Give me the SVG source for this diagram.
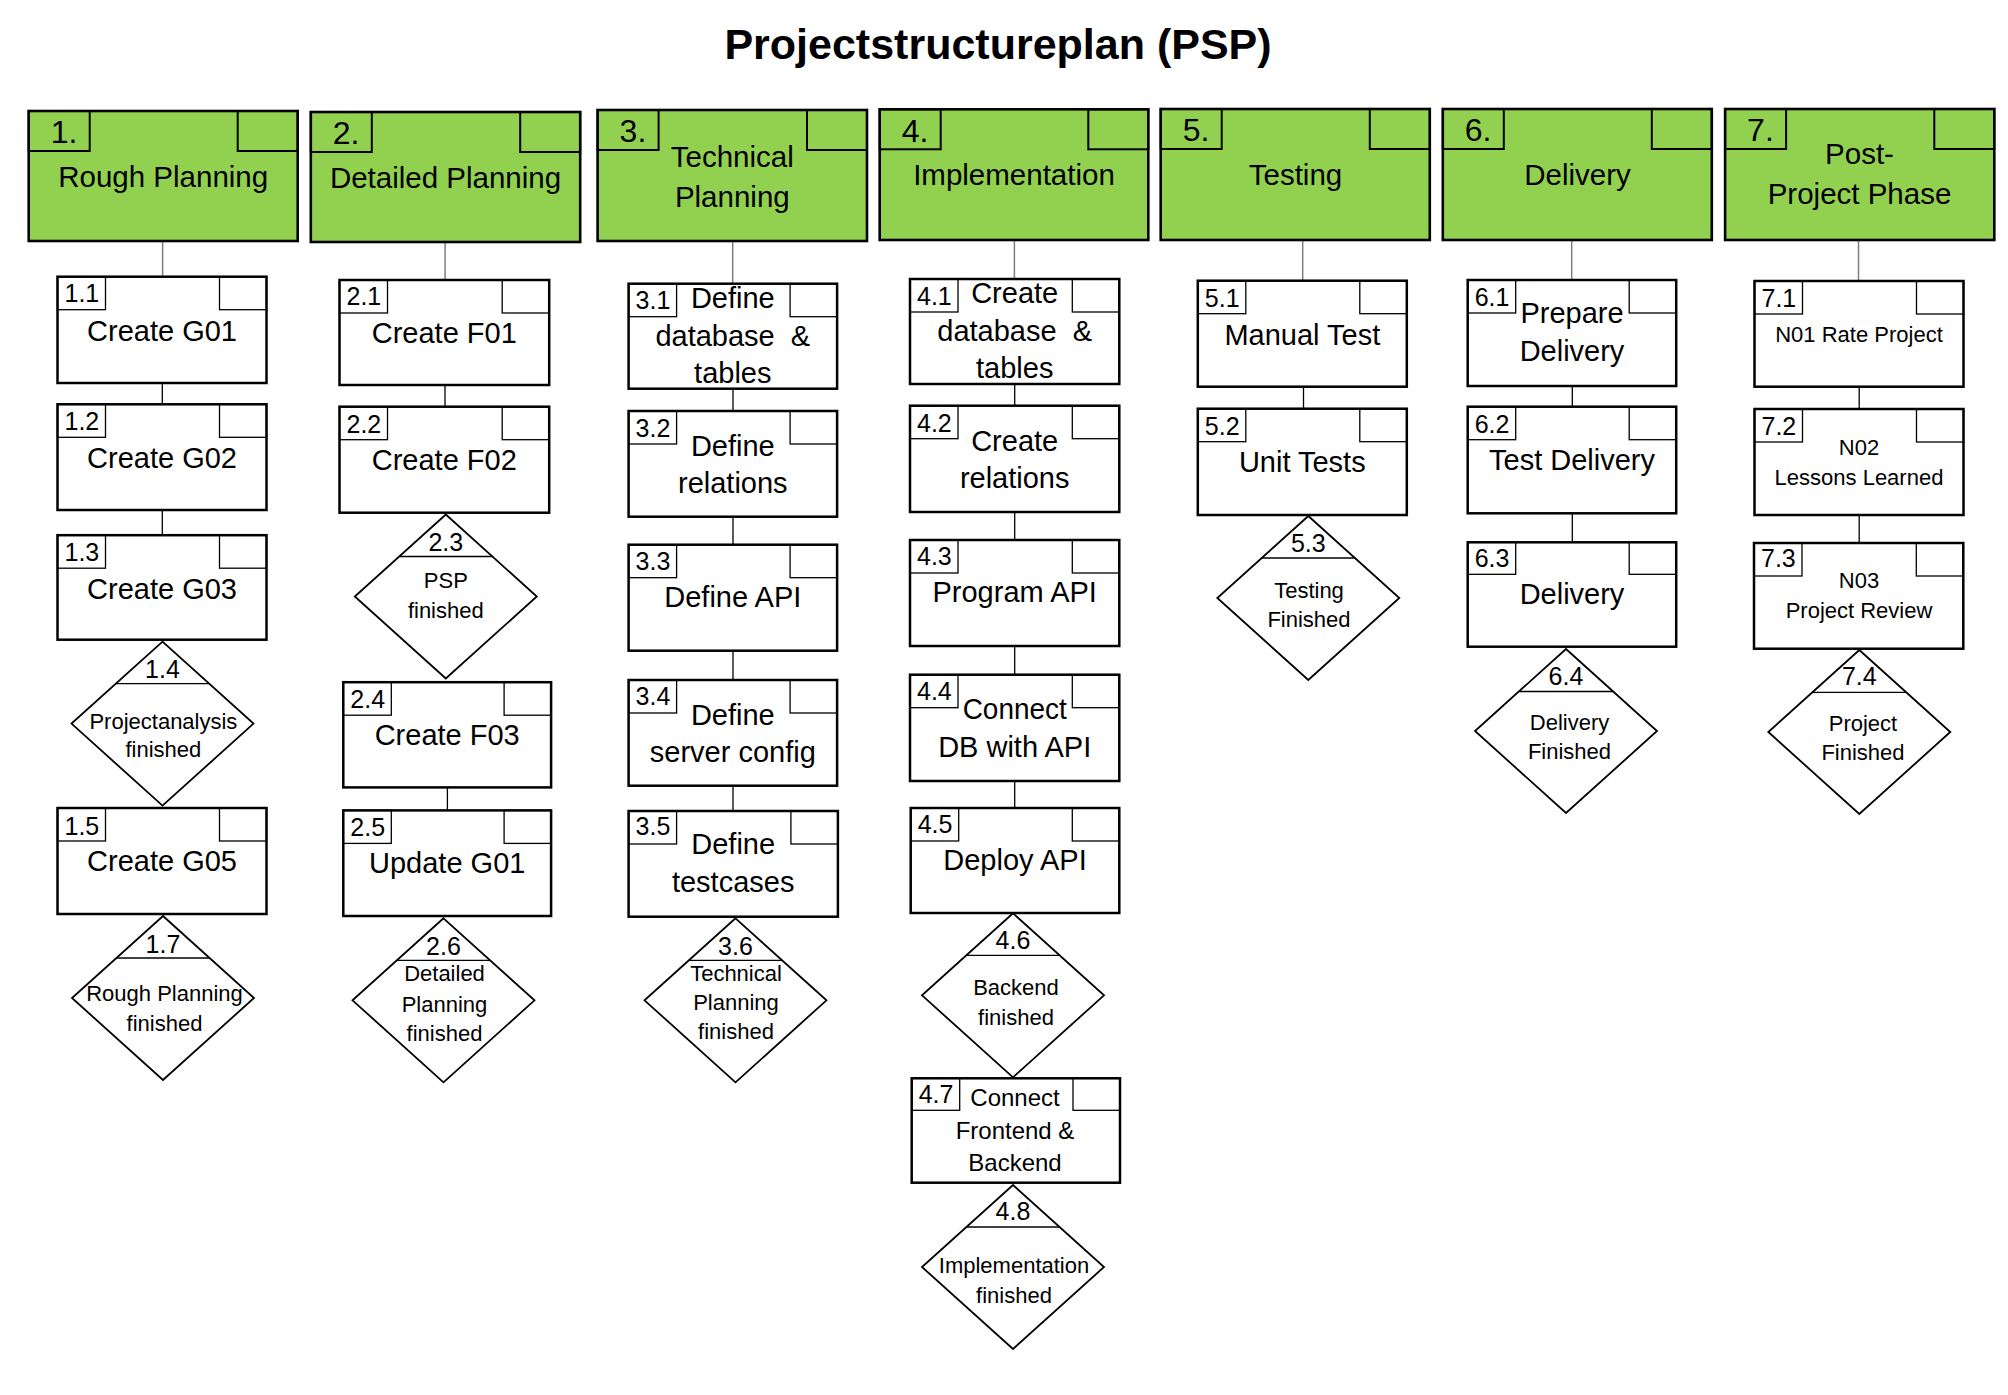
<svg xmlns="http://www.w3.org/2000/svg" width="2008" height="1395" viewBox="0 0 2008 1395">
<style>
text{font-family:"Liberation Sans",Arial,sans-serif;fill:#000}
.title{font-size:43px;font-weight:bold;text-anchor:middle}
.hd{fill:#92D050;stroke:#000;stroke-width:2.6}
.hb{fill:none;stroke:#000;stroke-width:2}
.bx{fill:#fff;stroke:#000;stroke-width:2.5}
.sb{fill:none;stroke:#000;stroke-width:1.3}
.dm{fill:#fff;stroke:#000;stroke-width:1.8}
.dl{stroke:#000;stroke-width:1.3}
.hn{font-size:32px}
.ht{font-size:29.5px;text-anchor:middle}
.tn{font-size:25px}
.tt{font-size:29px;text-anchor:middle}
.ts{font-size:22px;text-anchor:middle}
.tm{font-size:24px;text-anchor:middle}
.dn{font-size:25px;text-anchor:middle}
.dt{font-size:22px;text-anchor:middle}
.pre{white-space:pre}
.ch{stroke:#7f7f7f;stroke-width:1.5}
.ct{stroke:#000;stroke-width:1.3}
</style>

<text class="title" x="998" y="59">Projectstructureplan (PSP)</text>

<g id="connectors">
<line class="ch" x1="162.6" y1="241" x2="162.6" y2="276.7"/>
<line class="ch" x1="445.1" y1="242" x2="445.1" y2="280"/>
<line class="ch" x1="732.7" y1="241" x2="732.7" y2="283.7"/>
<line class="ch" x1="1014.4" y1="240" x2="1014.4" y2="279"/>
<line class="ch" x1="1302.7" y1="240" x2="1302.7" y2="280.7"/>
<line class="ch" x1="1571.7" y1="240" x2="1571.7" y2="280"/>
<line class="ch" x1="1858.5" y1="240" x2="1858.5" y2="281"/>
<line class="ct" x1="162.3" y1="383" x2="162.3" y2="404.3"/>
<line class="ct" x1="162.3" y1="510" x2="162.3" y2="535.2"/>
<line class="ct" x1="445" y1="385" x2="445" y2="406.7"/>
<line class="ct" x1="447.4" y1="787.4" x2="447.4" y2="810.4"/>
<line class="ct" x1="733" y1="388.7" x2="733" y2="411"/>
<line class="ct" x1="733" y1="516.7" x2="733" y2="544.7"/>
<line class="ct" x1="733" y1="650.7" x2="733" y2="680"/>
<line class="ct" x1="733" y1="785.7" x2="733" y2="811"/>
<line class="ct" x1="1014.7" y1="384" x2="1014.7" y2="405.7"/>
<line class="ct" x1="1014.7" y1="512" x2="1014.7" y2="540"/>
<line class="ct" x1="1014.7" y1="646" x2="1014.7" y2="674.7"/>
<line class="ct" x1="1014.7" y1="781" x2="1014.7" y2="808"/>
<line class="ct" x1="1303.5" y1="386.7" x2="1303.5" y2="408.7"/>
<line class="ct" x1="1572.3" y1="386" x2="1572.3" y2="406.7"/>
<line class="ct" x1="1572.3" y1="513.3" x2="1572.3" y2="542.3"/>
<line class="ct" x1="1859.2" y1="386.7" x2="1859.2" y2="409"/>
<line class="ct" x1="1859.2" y1="515" x2="1859.2" y2="543"/>
</g>

<!-- Headers -->
<g id="h1">
<rect class="hd" x="28.7" y="111" width="269" height="130"/>
<rect class="hb" x="28.7" y="111" width="61" height="40"/>
<rect class="hb" x="237.7" y="111" width="60" height="40"/>
<text class="hn" x="50.7" y="143">1.</text>
<text class="ht" x="163.2" y="187.3">Rough Planning</text>
</g>
<g id="h2">
<rect class="hd" x="310.8" y="112" width="269.4" height="130"/>
<rect class="hb" x="310.8" y="112" width="61" height="40"/>
<rect class="hb" x="520.2" y="112" width="60" height="40"/>
<text class="hn" x="332.8" y="144">2.</text>
<text class="ht" x="445.5" y="188.3">Detailed Planning</text>
</g>
<g id="h3">
<rect class="hd" x="597.6" y="110" width="269.4" height="131"/>
<rect class="hb" x="597.6" y="110" width="61" height="40"/>
<rect class="hb" x="807" y="110" width="60" height="40"/>
<text class="hn" x="619.6" y="142">3.</text>
<text class="ht" x="732.3" y="166.7">Technical</text>
<text class="ht" x="732.3" y="206.7">Planning</text>
</g>
<g id="h4">
<rect class="hd" x="879.7" y="109.3" width="268.6" height="130.7"/>
<rect class="hb" x="879.7" y="109.3" width="61" height="40"/>
<rect class="hb" x="1088.3" y="109.3" width="60" height="40"/>
<text class="hn" x="901.7" y="142">4.</text>
<text class="ht" x="1014" y="185">Implementation</text>
</g>
<g id="h5">
<rect class="hd" x="1160.7" y="109" width="269.1" height="131"/>
<rect class="hb" x="1160.7" y="109" width="61" height="40"/>
<rect class="hb" x="1369.8" y="109" width="60" height="40"/>
<text class="hn" x="1182.7" y="141">5.</text>
<text class="ht" x="1295.5" y="185">Testing</text>
</g>
<g id="h6">
<rect class="hd" x="1442.8" y="109" width="269" height="131"/>
<rect class="hb" x="1442.8" y="109" width="61" height="40"/>
<rect class="hb" x="1651.8" y="109" width="60" height="40"/>
<text class="hn" x="1464.8" y="141">6.</text>
<text class="ht" x="1577.5" y="185">Delivery</text>
</g>
<g id="h7">
<rect class="hd" x="1725.1" y="109" width="269.2" height="131"/>
<rect class="hb" x="1725.1" y="109" width="61" height="40"/>
<rect class="hb" x="1934.3" y="109" width="60" height="40"/>
<text class="hn" x="1747.1" y="141">7.</text>
<text class="ht" x="1859.5" y="164">Post-</text>
<text class="ht" x="1859.5" y="204">Project Phase</text>
</g>

<!-- Column 1 -->
<g id="t1_1">
<rect class="bx" x="57.5" y="276.7" width="209" height="106.3"/>
<rect class="sb" x="57.5" y="276.7" width="48" height="33"/>
<rect class="sb" x="219.5" y="276.7" width="47" height="33"/>
<text class="tn" x="64.5" y="302">1.1</text>
<text class="tt" x="162" y="340.7">Create G01</text>
</g>
<g id="t1_2">
<rect class="bx" x="57.5" y="404.3" width="209" height="105.7"/>
<rect class="sb" x="57.5" y="404.3" width="48" height="33"/>
<rect class="sb" x="219.5" y="404.3" width="47" height="33"/>
<text class="tn" x="64.5" y="430">1.2</text>
<text class="tt" x="162" y="468.3">Create G02</text>
</g>
<g id="t1_3">
<rect class="bx" x="57.5" y="535.2" width="209" height="104.5"/>
<rect class="sb" x="57.5" y="535.2" width="48" height="33"/>
<rect class="sb" x="219.5" y="535.2" width="47" height="33"/>
<text class="tn" x="64.5" y="560.7">1.3</text>
<text class="tt" x="162" y="598.7">Create G03</text>
</g>
<g id="d1_4">
<polygon class="dm" points="162.5,641.6 253.5,723.6 162.5,805.6 71.5,723.6"/>
<line class="dl" x1="115.9" y1="683.6" x2="209.1" y2="683.6"/>
<text class="dn" x="162.5" y="678">1.4</text>
<text class="dt" x="163.4" y="728.5">Projectanalysis</text>
<text class="dt" x="163.4" y="757">finished</text>
</g>
<g id="t1_5">
<rect class="bx" x="57.5" y="808" width="209" height="106"/>
<rect class="sb" x="57.5" y="808" width="48" height="33"/>
<rect class="sb" x="219.5" y="808" width="47" height="33"/>
<text class="tn" x="64.5" y="834.5">1.5</text>
<text class="tt" x="162" y="871.2">Create G05</text>
</g>
<g id="d1_7">
<polygon class="dm" points="163,916 254,998 163,1080 72,998"/>
<line class="dl" x1="116.4" y1="958" x2="209.6" y2="958"/>
<text class="dn" x="163" y="953">1.7</text>
<text class="dt" x="164.5" y="1001.3">Rough Planning</text>
<text class="dt" x="164.5" y="1031.2">finished</text>
</g>

<!-- Column 2 -->
<g id="t2_1">
<rect class="bx" x="339.5" y="280" width="209.7" height="105"/>
<rect class="sb" x="339.5" y="280" width="48" height="33"/>
<rect class="sb" x="502.2" y="280" width="47" height="33"/>
<text class="tn" x="346.5" y="305">2.1</text>
<text class="tt" x="444.3" y="343.3">Create F01</text>
</g>
<g id="t2_2">
<rect class="bx" x="339.5" y="406.7" width="209.7" height="106"/>
<rect class="sb" x="339.5" y="406.7" width="48" height="33"/>
<rect class="sb" x="502.2" y="406.7" width="47" height="33"/>
<text class="tn" x="346.5" y="432.5">2.2</text>
<text class="tt" x="444.3" y="470">Create F02</text>
</g>
<g id="d2_3">
<polygon class="dm" points="445.8,514.5 536.8,596.5 445.8,678.5 354.8,596.5"/>
<line class="dl" x1="399.2" y1="556.5" x2="492.4" y2="556.5"/>
<text class="dn" x="445.8" y="550.5">2.3</text>
<text class="dt" x="445.8" y="588">PSP</text>
<text class="dt" x="445.8" y="617.5">finished</text>
</g>
<g id="t2_4">
<rect class="bx" x="343.3" y="682.2" width="207.8" height="105.2"/>
<rect class="sb" x="343.3" y="682.2" width="48" height="33"/>
<rect class="sb" x="504.1" y="682.2" width="47" height="33"/>
<text class="tn" x="350.3" y="708">2.4</text>
<text class="tt" x="447.2" y="745">Create F03</text>
</g>
<g id="t2_5">
<rect class="bx" x="343.3" y="810.4" width="207.8" height="105.6"/>
<rect class="sb" x="343.3" y="810.4" width="48" height="33"/>
<rect class="sb" x="504.1" y="810.4" width="47" height="33"/>
<text class="tn" x="350.3" y="836">2.5</text>
<text class="tt" x="447.2" y="873.1">Update G01</text>
</g>
<g id="d2_6">
<polygon class="dm" points="443.5,918.3 534.5,1000.3 443.5,1082.3 352.5,1000.3"/>
<line class="dl" x1="396.9" y1="960.3" x2="490.1" y2="960.3"/>
<text class="dn" x="443.5" y="955">2.6</text>
<text class="dt" x="444.5" y="981.4">Detailed</text>
<text class="dt" x="444.5" y="1011.7">Planning</text>
<text class="dt" x="444.5" y="1040.8">finished</text>
</g>

<!-- Column 3 -->
<g id="t3_1">
<rect class="bx" x="628.6" y="283.7" width="208.5" height="105"/>
<rect class="sb" x="628.6" y="283.7" width="48" height="33"/>
<rect class="sb" x="790.1" y="283.7" width="47" height="33"/>
<text class="tn" x="635.6" y="309">3.1</text>
<text class="tt" x="732.8" y="308.3">Define</text>
<text class="tt pre" x="732.8" y="346">database  &amp;</text>
<text class="tt" x="732.8" y="383.3">tables</text>
</g>
<g id="t3_2">
<rect class="bx" x="628.6" y="411" width="208.5" height="105.7"/>
<rect class="sb" x="628.6" y="411" width="48" height="33"/>
<rect class="sb" x="790.1" y="411" width="47" height="33"/>
<text class="tn" x="635.6" y="436.5">3.2</text>
<text class="tt" x="732.8" y="456">Define</text>
<text class="tt" x="732.8" y="493.3">relations</text>
</g>
<g id="t3_3">
<rect class="bx" x="628.6" y="544.7" width="208.5" height="106"/>
<rect class="sb" x="628.6" y="544.7" width="48" height="33"/>
<rect class="sb" x="790.1" y="544.7" width="47" height="33"/>
<text class="tn" x="635.6" y="570">3.3</text>
<text class="tt" x="732.8" y="607.3">Define API</text>
</g>
<g id="t3_4">
<rect class="bx" x="628.6" y="680" width="208.5" height="105.7"/>
<rect class="sb" x="628.6" y="680" width="48" height="33"/>
<rect class="sb" x="790.1" y="680" width="47" height="33"/>
<text class="tn" x="635.6" y="705">3.4</text>
<text class="tt" x="732.8" y="725">Define</text>
<text class="tt" x="732.8" y="762.3">server config</text>
</g>
<g id="t3_5">
<rect class="bx" x="628.6" y="811" width="209.3" height="105.7"/>
<rect class="sb" x="628.6" y="811" width="48" height="33"/>
<rect class="sb" x="790.9" y="811" width="47" height="33"/>
<text class="tn" x="635.6" y="835">3.5</text>
<text class="tt" x="733.2" y="854">Define</text>
<text class="tt" x="733.2" y="892.3">testcases</text>
</g>
<g id="d3_6">
<polygon class="dm" points="735.5,918.3 826.5,1000.3 735.5,1082.3 644.5,1000.3"/>
<line class="dl" x1="688.9" y1="960.3" x2="782.1" y2="960.3"/>
<text class="dn" x="735.5" y="955">3.6</text>
<text class="dt" x="736" y="981.4">Technical</text>
<text class="dt" x="736" y="1010">Planning</text>
<text class="dt" x="736" y="1038.5">finished</text>
</g>

<!-- Column 4 -->
<g id="t4_1">
<rect class="bx" x="910" y="279" width="209.3" height="105"/>
<rect class="sb" x="910" y="279" width="48" height="33"/>
<rect class="sb" x="1072.3" y="279" width="47" height="33"/>
<text class="tn" x="917" y="304.5">4.1</text>
<text class="tt" x="1014.7" y="303.3">Create</text>
<text class="tt pre" x="1014.7" y="340.7">database  &amp;</text>
<text class="tt" x="1014.7" y="377.7">tables</text>
</g>
<g id="t4_2">
<rect class="bx" x="910" y="405.7" width="209.3" height="106.3"/>
<rect class="sb" x="910" y="405.7" width="48" height="33"/>
<rect class="sb" x="1072.3" y="405.7" width="47" height="33"/>
<text class="tn" x="917" y="432">4.2</text>
<text class="tt" x="1014.7" y="450.7">Create</text>
<text class="tt" x="1014.7" y="488.3">relations</text>
</g>
<g id="t4_3">
<rect class="bx" x="910" y="540" width="209.3" height="106"/>
<rect class="sb" x="910" y="540" width="48" height="33"/>
<rect class="sb" x="1072.3" y="540" width="47" height="33"/>
<text class="tn" x="917" y="565">4.3</text>
<text class="tt" x="1014.7" y="602.3">Program API</text>
</g>
<g id="t4_4">
<rect class="bx" x="910" y="674.7" width="209.3" height="106.3"/>
<rect class="sb" x="910" y="674.7" width="48" height="33"/>
<rect class="sb" x="1072.3" y="674.7" width="47" height="33"/>
<text class="tn" x="917" y="700">4.4</text>
<text class="tt" x="1014.7" y="719.3" textLength="104" lengthAdjust="spacingAndGlyphs">Connect</text>
<text class="tt" x="1014.7" y="757.3">DB with API</text>
</g>
<g id="t4_5">
<rect class="bx" x="910.7" y="808" width="208.6" height="105"/>
<rect class="sb" x="910.7" y="808" width="48" height="33"/>
<rect class="sb" x="1072.3" y="808" width="47" height="33"/>
<text class="tn" x="917.7" y="832.5">4.5</text>
<text class="tt" x="1015" y="870">Deploy API</text>
</g>
<g id="d4_6">
<polygon class="dm" points="1013,913.3 1104,995.3 1013,1077.3 922,995.3"/>
<line class="dl" x1="966.4" y1="955.3" x2="1059.6" y2="955.3"/>
<text class="dn" x="1013" y="948.5">4.6</text>
<text class="dt" x="1016" y="995">Backend</text>
<text class="dt" x="1016" y="1025">finished</text>
</g>
<g id="t4_7">
<rect class="bx" x="911.7" y="1078.3" width="208.3" height="104.4"/>
<rect class="sb" x="911.7" y="1078.3" width="48" height="32"/>
<rect class="sb" x="1073" y="1078.3" width="47" height="32"/>
<text class="tn" x="918.7" y="1102.5">4.7</text>
<text class="tm" x="1015" y="1105.7">Connect</text>
<text class="tm" x="1015" y="1139.3">Frontend &amp;</text>
<text class="tm" x="1015" y="1170.7">Backend</text>
</g>
<g id="d4_8">
<polygon class="dm" points="1013,1185 1104,1267 1013,1349 922,1267"/>
<line class="dl" x1="966.4" y1="1227" x2="1059.6" y2="1227"/>
<text class="dn" x="1013" y="1220">4.8</text>
<text class="dt" x="1014" y="1273.3">Implementation</text>
<text class="dt" x="1014" y="1303.3">finished</text>
</g>

<!-- Column 5 -->
<g id="t5_1">
<rect class="bx" x="1197.8" y="280.7" width="209" height="106"/>
<rect class="sb" x="1197.8" y="280.7" width="48" height="33"/>
<rect class="sb" x="1359.8" y="280.7" width="47" height="33"/>
<text class="tn" x="1204.8" y="306.5">5.1</text>
<text class="tt" x="1302.3" y="345">Manual Test</text>
</g>
<g id="t5_2">
<rect class="bx" x="1197.8" y="408.7" width="209" height="106.3"/>
<rect class="sb" x="1197.8" y="408.7" width="48" height="33"/>
<rect class="sb" x="1359.8" y="408.7" width="47" height="33"/>
<text class="tn" x="1204.8" y="434.5">5.2</text>
<text class="tt" x="1302.3" y="471.7">Unit Tests</text>
</g>
<g id="d5_3">
<polygon class="dm" points="1308.3,516 1399.3,598 1308.3,680 1217.3,598"/>
<line class="dl" x1="1261.7" y1="558" x2="1354.9" y2="558"/>
<text class="dn" x="1308.3" y="551.5">5.3</text>
<text class="dt" x="1309" y="598.3">Testing</text>
<text class="dt" x="1309" y="627">Finished</text>
</g>

<!-- Column 6 -->
<g id="t6_1">
<rect class="bx" x="1467.7" y="280" width="208.5" height="106"/>
<rect class="sb" x="1467.7" y="280" width="48" height="33"/>
<rect class="sb" x="1629.2" y="280" width="47" height="33"/>
<text class="tn" x="1474.7" y="305.5">6.1</text>
<text class="tt" x="1572" y="322.7">Prepare</text>
<text class="tt" x="1572" y="361">Delivery</text>
</g>
<g id="t6_2">
<rect class="bx" x="1467.7" y="406.7" width="208.5" height="106.6"/>
<rect class="sb" x="1467.7" y="406.7" width="48" height="33"/>
<rect class="sb" x="1629.2" y="406.7" width="47" height="33"/>
<text class="tn" x="1474.7" y="432.5">6.2</text>
<text class="tt" x="1572" y="470">Test Delivery</text>
</g>
<g id="t6_3">
<rect class="bx" x="1467.7" y="542.3" width="208.5" height="104.4"/>
<rect class="sb" x="1467.7" y="542.3" width="48" height="32"/>
<rect class="sb" x="1629.2" y="542.3" width="47" height="32"/>
<text class="tn" x="1474.7" y="566.5">6.3</text>
<text class="tt" x="1572" y="604">Delivery</text>
</g>
<g id="d6_4">
<polygon class="dm" points="1566,649 1657,731 1566,813 1475,731"/>
<line class="dl" x1="1519.4" y1="691.5" x2="1612.6" y2="691.5"/>
<text class="dn" x="1566" y="684.5">6.4</text>
<text class="dt" x="1569.5" y="730">Delivery</text>
<text class="dt" x="1569.5" y="759.3">Finished</text>
</g>

<!-- Column 7 -->
<g id="t7_1">
<rect class="bx" x="1754.5" y="281" width="209" height="105.7"/>
<rect class="sb" x="1754.5" y="281" width="48" height="33"/>
<rect class="sb" x="1916.5" y="281" width="47" height="33"/>
<text class="tn" x="1761.5" y="306.5">7.1</text>
<text class="ts" x="1859" y="341.7">N01 Rate Project</text>
</g>
<g id="t7_2">
<rect class="bx" x="1754.5" y="409" width="209" height="106"/>
<rect class="sb" x="1754.5" y="409" width="48" height="33"/>
<rect class="sb" x="1916.5" y="409" width="47" height="33"/>
<text class="tn" x="1761.5" y="435">7.2</text>
<text class="ts" x="1859" y="455">N02</text>
<text class="ts" x="1859" y="485">Lessons Learned</text>
</g>
<g id="t7_3">
<rect class="bx" x="1754" y="543" width="209.3" height="105.7"/>
<rect class="sb" x="1754" y="543" width="48" height="33"/>
<rect class="sb" x="1916.3" y="543" width="47" height="33"/>
<text class="tn" x="1761" y="567">7.3</text>
<text class="ts" x="1859" y="588.3">N03</text>
<text class="ts" x="1859" y="618.3">Project Review</text>
</g>
<g id="d7_4">
<polygon class="dm" points="1859.3,650 1950.3,732 1859.3,814 1768.3,732"/>
<line class="dl" x1="1812.7" y1="692.3" x2="1905.9" y2="692.3"/>
<text class="dn" x="1859.3" y="685">7.4</text>
<text class="dt" x="1863" y="731">Project</text>
<text class="dt" x="1863" y="760">Finished</text>
</g>
</svg>
